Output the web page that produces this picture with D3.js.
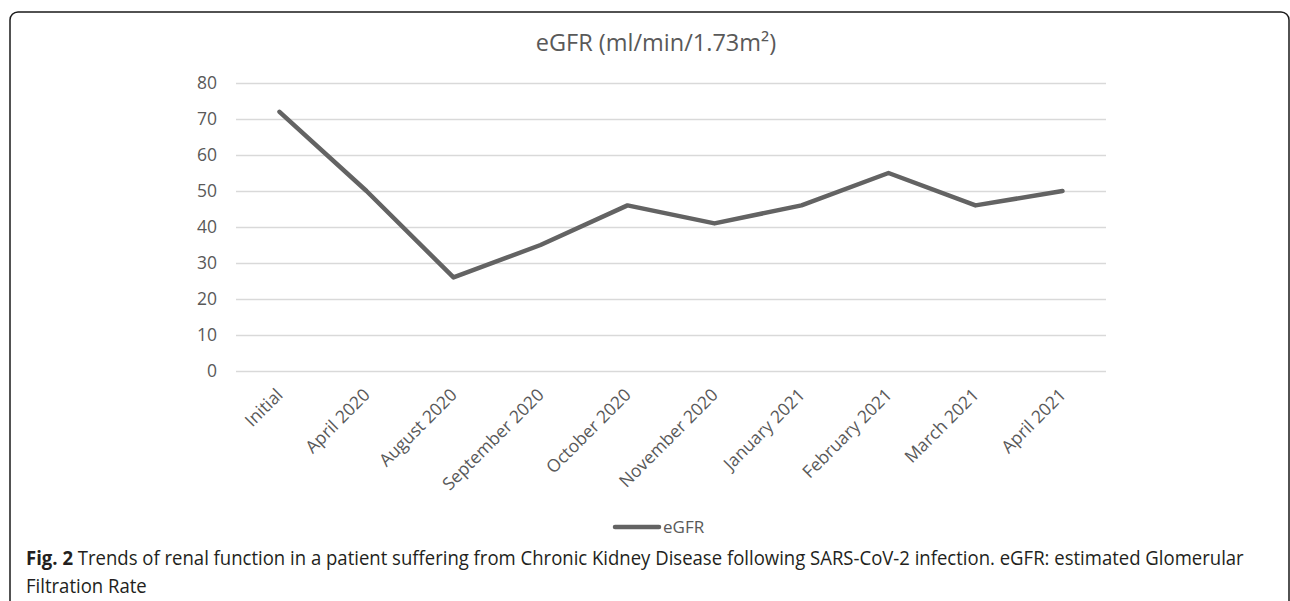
<!DOCTYPE html>
<html>
<head>
<meta charset="utf-8">
<script src="https://cdn.jsdelivr.net/npm/d3@7"></script>
<style>
  body { margin: 0; background: #fff; }
  svg { display: block; }
</style>
</head>
<body>
<div id="chart"></div>
<script>
const categories = ["Initial", "April 2020", "August 2020", "September 2020", "October 2020",
    "November 2020", "January 2021", "February 2021", "March 2021", "April 2021"];
const egfrValues = [72, 50, 26, 35, 46, 41, 46, 55, 46, 50];
const yTicks = [0, 10, 20, 30, 40, 50, 60, 70, 80];
const chartTitle = "eGFR (ml/min/1.73m²)";
const seriesName = "eGFR";
const captionBold = "Fig. 2";
const captionLine1 = " Trends of renal function in a patient suffering from Chronic Kidney Disease following SARS-CoV-2 infection. eGFR: estimated Glomerular";
const captionLine2 = "Filtration Rate";

const W = 1290, H = 601;
const plot = {left: 236, right: 1106, top: 83, bottom: 371};
const textColor = "#595959";
const lineColor = "#636363";
const font = "'Open Sans', sans-serif";

const svg = d3.select("#chart").append("svg")
    .attr("width", W)
    .attr("height", H);

// frame around figure
svg.append("rect")
    .attr("x", 10).attr("y", 12)
    .attr("width", 1279).attr("height", 640)
    .attr("rx", 8)
    .attr("fill", "none")
    .attr("stroke", "#1a1a1a")
    .attr("stroke-width", 1.5);

const x = d3.scalePoint()
    .domain(categories)
    .range([plot.left, plot.right])
    .padding(0.5);

const y = d3.scaleLinear()
    .domain([0, 80])
    .range([plot.bottom, plot.top]);

// title
svg.append("text")
    .attr("x", 656)
    .attr("y", 51)
    .attr("text-anchor", "middle")
    .attr("fill", textColor)
    .style("font-family", font)
    .style("font-size", "23.5px")
    .text(chartTitle);

// y axis with gridlines
const yAxis = svg.append("g")
    .attr("transform", `translate(${plot.left},0)`)
    .call(d3.axisLeft(y)
        .tickValues(yTicks)
        .tickSizeInner(-(plot.right - plot.left))
        .tickSizeOuter(0)
        .tickPadding(19));

yAxis.select(".domain").remove();
yAxis.selectAll(".tick line")
    .attr("stroke", "#d9d9d9")
    .attr("stroke-width", 1.3);
yAxis.selectAll("text")
    .attr("fill", textColor)
    .style("font-family", font)
    .style("font-size", "17.5px");

// x axis labels, rotated
const xAxis = svg.append("g")
    .attr("transform", `translate(0,${plot.bottom})`)
    .call(d3.axisBottom(x).tickSize(0));

xAxis.select(".domain").remove();
xAxis.selectAll("text")
    .attr("fill", textColor)
    .style("font-family", font)
    .style("font-size", "17.5px")
    .attr("text-anchor", "end")
    .attr("dy", null)
    .attr("y", 0)
    .attr("transform", "translate(4,25) rotate(-45)");

// data line
const line = d3.line()
    .x((d, i) => x(categories[i]))
    .y(d => y(d));

svg.append("path")
    .datum(egfrValues)
    .attr("fill", "none")
    .attr("stroke", lineColor)
    .attr("stroke-width", 4.5)
    .attr("stroke-linejoin", "round")
    .attr("stroke-linecap", "round")
    .attr("d", line);

// legend
const legend = svg.append("g").attr("transform", "translate(615,527)");
legend.append("line")
    .attr("x1", 0).attr("x2", 44)
    .attr("y1", 0).attr("y2", 0)
    .attr("stroke", lineColor)
    .attr("stroke-width", 4.5)
    .attr("stroke-linecap", "round");
legend.append("text")
    .attr("x", 48)
    .attr("y", 6)
    .attr("fill", textColor)
    .style("font-family", font)
    .style("font-size", "17px")
    .text(seriesName);

// caption
const cap1 = svg.append("text")
    .attr("fill", "#231f20")
    .style("font-family", font)
    .style("font-size", "20px");
cap1.append("tspan").style("font-weight", "bold").text(captionBold);
cap1.append("tspan").text(captionLine1);

const cap2 = svg.append("text")
    .attr("fill", "#231f20")
    .style("font-family", font)
    .style("font-size", "20px")
    .text(captionLine2);

const natural = cap1.node().getComputedTextLength();
const sx = 1219 / natural;
cap1.attr("transform", `translate(26,565) scale(${sx},1)`);
cap2.attr("transform", `translate(26,593) scale(${sx},1)`);
</script>
</body>
</html>
